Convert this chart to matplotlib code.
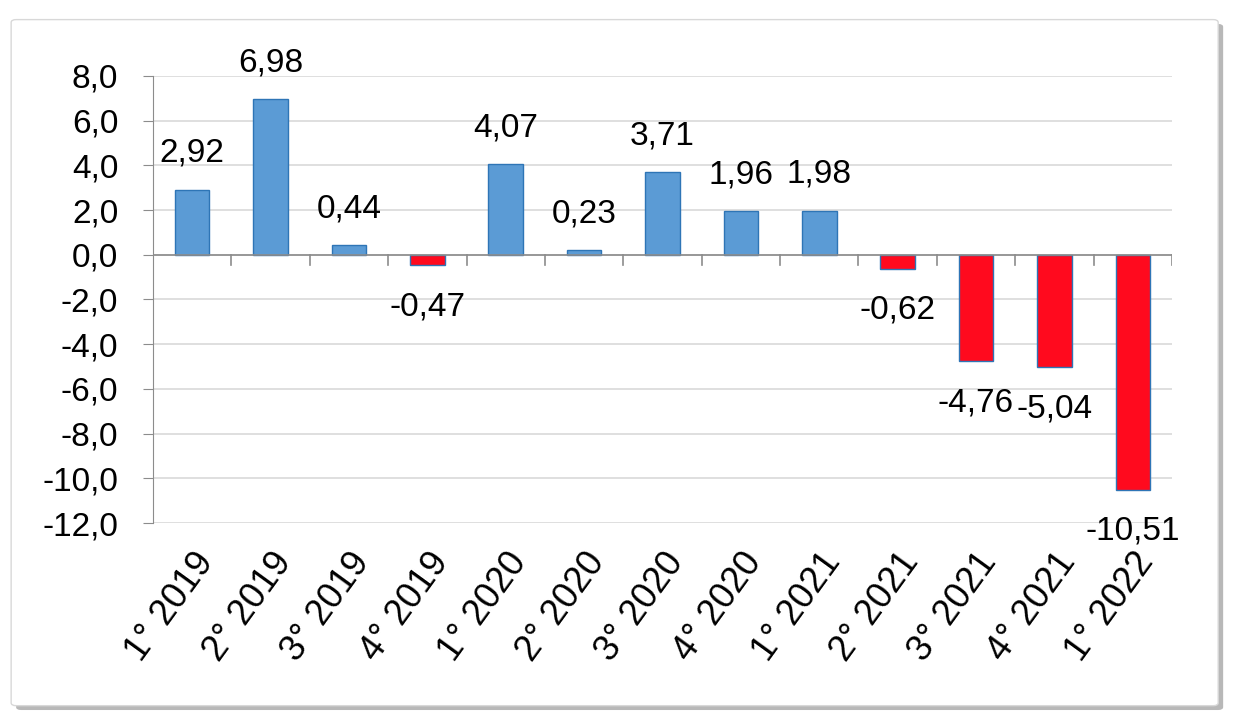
import matplotlib.pyplot as plt
from matplotlib.patches import FancyBboxPatch
import numpy as np

plt.rcParams['font.family'] = ['Liberation Sans', 'DejaVu Sans']

quarters = ["1° 2019", "2° 2019", "3° 2019", "4° 2019", "1° 2020", "2° 2020", "3° 2020",
            "4° 2020", "1° 2021", "2° 2021", "3° 2021", "4° 2021", "1° 2022"]
values = [2.92, 6.98, 0.44, -0.47, 4.07, 0.23, 3.71, 1.96, 1.98, -0.62, -4.76, -5.04, -10.51]
yticks = [8, 6, 4, 2, 0, -2, -4, -6, -8, -10, -12]

fig = plt.figure(figsize=(12.38, 7.26), dpi=100)

# framed background with shadow
shadow = FancyBboxPatch((0.013, 0.022), 0.975, 0.945, boxstyle="round,pad=0,rounding_size=0.004",
                        transform=fig.transFigure, facecolor="#8a8a8a", edgecolor="none", alpha=0.6, zorder=-3)
frame = FancyBboxPatch((0.009, 0.028), 0.975, 0.945, boxstyle="round,pad=0,rounding_size=0.004",
                       transform=fig.transFigure, facecolor="white", edgecolor="#d8d8d8", lw=1, zorder=-2)
fig.patches.extend([shadow, frame])

ax = fig.add_axes([153 / 1238, 1 - 523 / 726, (1172 - 153) / 1238, (523 - 76) / 726])
ax.set_facecolor("none")

x = np.arange(len(values))
colors = ["#5b9bd5" if v >= 0 else "#ff0a1e" for v in values]
ax.bar(x, values, width=0.44, color=colors, edgecolor="#2e75b6", linewidth=1, zorder=3)

for xi, v in zip(x, values):
    off = 26 if v >= 0 else -30
    ax.annotate(f"{v:.2f}".replace(".", ","), (xi, v), xytext=(0, off), textcoords="offset points",
                ha="center", va="center", fontsize=24)

ax.set_xlim(-0.5, len(values) - 0.5)
ax.set_ylim(-12, 8)
ax.set_yticks(yticks)
ax.set_yticklabels([f"{t:.1f}".replace(".", ",") for t in yticks], fontsize=24)
ax.grid(axis="y", color="#d9d9d9", lw=1.2, zorder=0)
ax.set_axisbelow(True)

for s in ["top", "right", "bottom"]:
    ax.spines[s].set_visible(False)
ax.spines["left"].set_color("#8c8c8c")
ax.tick_params(axis="y", direction="out", length=7, color="#8c8c8c", pad=18)
ax.axhline(0, color="#8c8c8c", lw=1.2, zorder=4)

# boundary ticks on the zero line
for b in np.arange(1, len(values) + 1) - 0.5:
    ax.plot([b, b], [0, -0.45], color="#8c8c8c", lw=1.2, zorder=4)
ax.tick_params(axis="x", which="both", length=0)
ax.set_xticks(x)
ax.set_xticklabels(quarters, rotation=54, ha="right", rotation_mode="anchor", fontsize=26)
for lbl in ax.get_xticklabels():
    lbl.set_y(-0.04)

fig.savefig("out.png", dpi=100)
